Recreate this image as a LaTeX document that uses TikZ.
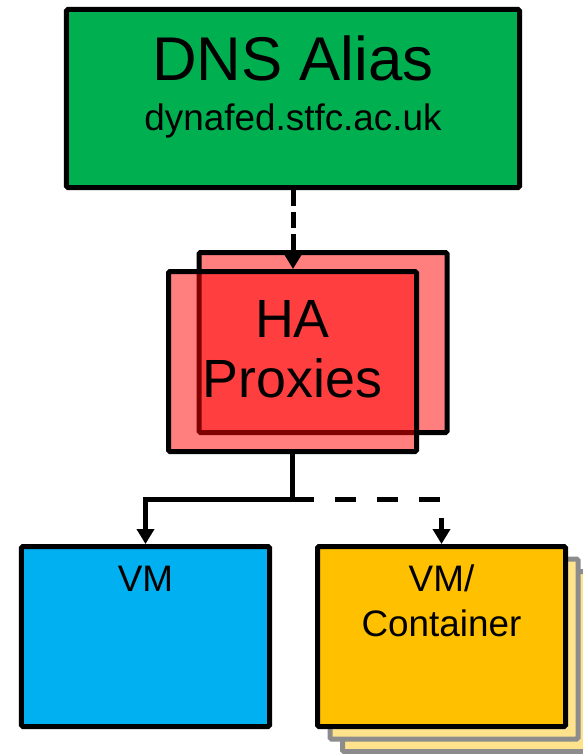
\documentclass[tikz,border=0pt]{standalone}
\usepackage{fontspec}
\setmainfont{Liberation Sans}
\usetikzlibrary{positioning, arrows.meta, shadows}
\definecolor{dnsgreen}{HTML}{00B050}
\definecolor{vmblue}{HTML}{00B0F0}
\definecolor{ctnyellow}{HTML}{FFC000}
\tikzset{node distance=40bp, % Gap between boxes, overridden where needed
tier/.style={ % Common look of every box
draw, line width=5bp, rounded corners=1.5bp, inner sep=0pt,
minimum width=248bp, minimum height=180bp},
proxybox/.style={tier, fill=red, fill opacity=0.5}, % See-through proxies
boxtext/.style={anchor=base, inner sep=0pt, align=center}, % Text sits on its (last) baseline
link/.style={ % Connectors between boxes
draw, line width=5bp, -{Triangle[width=17bp,length=15bp]}}}
\begin{document}
\begin{tikzpicture}[x=1bp, y=-1bp]
    \useasboundingbox (0,0) rectangle (583,754);

    \node[tier, fill=dnsgreen, minimum width=453bp, minimum height=178bp] (dns) at (293,98.5) {};
    \node[proxybox, below=60bp of dns, xshift=30bp] (proxyback) {};
    \node[proxybox] (proxy) at ([xshift=-30.5bp, yshift=-19bp]proxyback) {};
    \node[tier, fill=vmblue, below=90bp of proxy, xshift=-147bp] (vm) {};
    \node[tier, fill=ctnyellow, right=43bp of vm,
        double copy shadow={shadow xshift=12.5bp, shadow yshift=-12.5bp, fill=ctnyellow!45, draw=black!45}] (ctn) {};

    \node[boxtext, font=\fontsize{62}{72}\selectfont] (dnstitle) at ([yshift=-73bp]dns.north) {DNS Alias};
    \node[boxtext, font=\fontsize{37}{44}\selectfont] (dnsname) at ([yshift=-50bp]dnstitle.base) {dynafed.stfc.ac.uk};
    \node[boxtext, font=\fontsize{54}{60}\selectfont] (proxytext) at ([yshift=-128bp]proxy.north) {HA\\Proxies};
    \node[boxtext, font=\fontsize{37}{45}\selectfont] (vmtext) at ([yshift=-47bp]vm.north) {VM};
    \node[boxtext, font=\fontsize{37}{45}\selectfont] (ctntext) at ([yshift=-92bp]ctn.north) {VM/\\Container};

    \draw[link, dash pattern=on 16bp off 6bp] (dns) -- (dns |- proxy.north);
    \coordinate (split) at ([yshift=-45bp]proxy.south);
    \draw[link] (proxy) -- (split) -| (vm);
    \draw[link, dash pattern=on 21bp off 21bp] (split) -| (ctn);

\end{tikzpicture}
\end{document}
